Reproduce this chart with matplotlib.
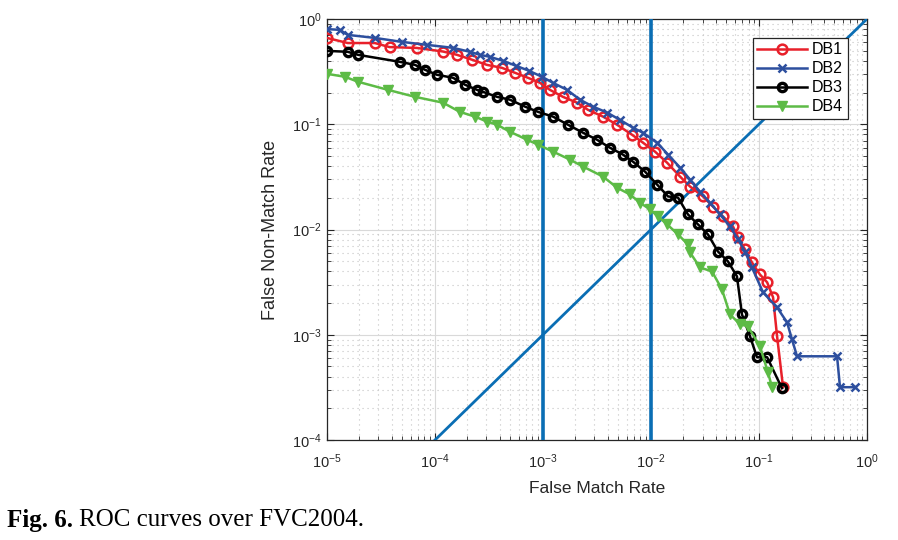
import matplotlib
matplotlib.use("Agg")
import matplotlib.pyplot as plt
from matplotlib.ticker import LogLocator, NullFormatter

plt.rcParams['font.family'] = ['Liberation Sans', 'DejaVu Sans']

# ROC curves (FMR, FNMR)
db1_fmr = [1e-5, 1.56e-5, 2.78e-5, 3.8e-5, 6.8e-5, 1.19e-4, 1.6e-4, 2.2e-4, 3.03e-4, 4.17e-4,
           5.5e-4, 7.26e-4, 9.4e-4, 1.16e-3, 1.53e-3, 2.07e-3, 2.61e-3, 3.6e-3, 4.84e-3, 6.67e-3,
           8.43e-3, 0.0109, 0.0141, 0.0186, 0.023, 0.0303, 0.0375, 0.0464, 0.0574, 0.064,
           0.0742, 0.0861, 0.102, 0.119, 0.135, 0.147, 0.167]
db1_fnmr = [0.66, 0.59, 0.59, 0.54, 0.53, 0.49, 0.456, 0.41, 0.366, 0.343,
            0.308, 0.276, 0.247, 0.212, 0.182, 0.16, 0.137, 0.118, 0.099, 0.0795,
            0.0668, 0.0549, 0.0431, 0.0318, 0.0256, 0.0206, 0.0165, 0.0133, 0.0107, 0.0084,
            0.00646, 0.00486, 0.00374, 0.00315, 0.00227, 9.7e-4, 3.18e-4]

db2_fmr = [1e-5, 1.32e-5, 1.56e-5, 2.78e-5, 4.94e-5, 8.43e-5, 1.47e-4, 2.11e-4, 2.61e-4, 3.23e-4,
           4.27e-4, 5.62e-4, 7.41e-4, 9.8e-4, 1.24e-3, 1.67e-3, 2.2e-3, 2.9e-3, 3.92e-3, 5.16e-3,
           6.81e-3, 8.43e-3, 0.0114, 0.0144, 0.0186, 0.023, 0.0284, 0.0352, 0.0435, 0.0539,
           0.064, 0.0742, 0.0861, 0.109, 0.147, 0.182, 0.202, 0.225, 0.528, 0.562, 0.774]
db2_fnmr = [0.80, 0.787, 0.705, 0.66, 0.605, 0.567, 0.531, 0.487, 0.456, 0.436,
            0.40, 0.359, 0.322, 0.282, 0.247, 0.212, 0.171, 0.147, 0.129, 0.110,
            0.0927, 0.083, 0.0668, 0.0514, 0.0387, 0.0298, 0.0229, 0.018, 0.0139, 0.0107,
            0.00804, 0.00618, 0.00436, 0.00253, 0.00182, 0.00131, 9.06e-4, 6.25e-4, 6.25e-4, 3.18e-4, 3.18e-4]

db3_fmr = [1e-5, 1.56e-5, 1.94e-5, 4.74e-5, 6.53e-5, 8.08e-5, 1.04e-4, 1.47e-4, 1.9e-4, 2.45e-4,
           2.78e-4, 3.75e-4, 4.94e-4, 6.81e-4, 8.99e-4, 1.24e-3, 1.7e-3, 2.35e-3, 3.16e-3, 4.17e-3,
           5.51e-3, 6.81e-3, 8.8e-3, 0.0114, 0.0144, 0.0178, 0.022, 0.0272, 0.0337, 0.0417,
           0.0516, 0.0625, 0.0696, 0.0826, 0.0958, 0.119, 0.163]
db3_fnmr = [0.497, 0.487, 0.456, 0.391, 0.366, 0.329, 0.295, 0.276, 0.237, 0.212,
            0.203, 0.182, 0.171, 0.147, 0.131, 0.118, 0.099, 0.083, 0.0713, 0.0598,
            0.0514, 0.0441, 0.0355, 0.0267, 0.0206, 0.0201, 0.0139, 0.0112, 0.00897, 0.00618,
            0.00498, 0.00359, 0.00156, 9.68e-4, 6.12e-4, 6.12e-4, 3.11e-4]

db4_fmr = [1e-5, 1.47e-5, 1.94e-5, 3.67e-5, 6.53e-5, 1.19e-4, 1.7e-4, 2.35e-4, 3.03e-4, 3.75e-4,
           4.94e-4, 7.11e-4, 8.99e-4, 1.24e-3, 1.78e-3, 2.35e-3, 3.6e-3, 4.84e-3, 6.4e-3, 7.91e-3,
           9.79e-3, 0.0116, 0.0141, 0.0178, 0.022, 0.023, 0.0284, 0.0367, 0.0454, 0.0539,
           0.0667, 0.0791, 0.102, 0.121, 0.132]
db4_fnmr = [0.301, 0.282, 0.253, 0.212, 0.182, 0.16, 0.131, 0.118, 0.106, 0.099,
            0.0849, 0.0713, 0.064, 0.0549, 0.0461, 0.0396, 0.0318, 0.025, 0.0215, 0.018,
            0.0155, 0.0133, 0.0112, 0.00897, 0.00721, 0.00605, 0.00436, 0.004, 0.0027, 0.00156,
            0.00126, 0.0012, 7.78e-4, 4.41e-4, 3.18e-4]

# reference lines: FMR = 1e-3, FMR = 1e-2, EER diagonal
vlines = [1e-3, 1e-2]
diag = [1e-4, 1.0]

fig = plt.figure(figsize=(8.98, 5.4), dpi=100)
ax = fig.add_axes([0.364, 0.185, 0.6015, 0.78])

line_blue = '#0a6eb4'
ax.plot(diag, diag, color=line_blue, lw=2.0, zorder=3)
for v in vlines:
    ax.axvline(v, color=line_blue, lw=2.6, zorder=3)

ax.plot(db1_fmr, db1_fnmr, color='#e8202a', lw=1.8, marker='o', ms=7, mfc='none', mew=1.8, label='DB1', zorder=4)
ax.plot(db2_fmr, db2_fnmr, color='#2d4f9e', lw=1.8, marker='x', ms=6, mew=1.8, label='DB2', zorder=5)
ax.plot(db3_fmr, db3_fnmr, color='black', lw=1.8, marker='o', ms=6, mfc='none', mew=2.4, label='DB3', zorder=4)
ax.plot(db4_fmr, db4_fnmr, color='#5dbb46', lw=1.8, marker='v', ms=7, label='DB4', zorder=4)

ax.set_xscale('log')
ax.set_yscale('log')
ax.set_xlim(1e-5, 1)
ax.set_ylim(1e-4, 1)

ax.xaxis.set_major_locator(LogLocator(base=10, numticks=10))
ax.yaxis.set_major_locator(LogLocator(base=10, numticks=10))
ax.xaxis.set_minor_locator(LogLocator(base=10, subs=range(2, 10), numticks=20))
ax.yaxis.set_minor_locator(LogLocator(base=10, subs=range(2, 10), numticks=20))
ax.xaxis.set_minor_formatter(NullFormatter())
ax.yaxis.set_minor_formatter(NullFormatter())

ax.grid(which='major', color='#d9d9d9', lw=0.8, ls='-')
ax.grid(which='minor', color='#c4c4c4', lw=0.8, ls=(0, (1, 3.5)))
ax.set_axisbelow(True)

ax.tick_params(which='both', direction='in', top=True, right=True, colors='#262626', labelsize=10.5)
ax.tick_params(which='major', length=5)
ax.tick_params(which='minor', length=3)
ax.tick_params(axis='x', which='major', pad=9)
ax.tick_params(axis='y', which='major', pad=4)
for s in ax.spines.values():
    s.set_color('#262626')
    s.set_linewidth(0.9)

ax.set_xlabel('False Match Rate', fontsize=12.5, color='#262626', labelpad=7)
ax.set_ylabel('False Non-Match Rate', fontsize=13, color='#262626', labelpad=9)

leg = ax.legend(loc='upper right', bbox_to_anchor=(0.97, 0.963), fontsize=11.5,
                fancybox=False, framealpha=1, edgecolor='#262626', borderpad=0.3,
                handlelength=3.1, handletextpad=0.3, labelspacing=0.25, borderaxespad=0.2)
leg.get_frame().set_linewidth(0.9)

fig.text(0.008, 0.037, 'Fig. 6.', fontsize=18, fontweight='bold', family='Liberation Serif', va='center')
fig.text(0.088, 0.037, 'ROC curves over FVC2004.', fontsize=18, family='Liberation Serif', va='center')

fig.savefig('out.png', dpi=100)
